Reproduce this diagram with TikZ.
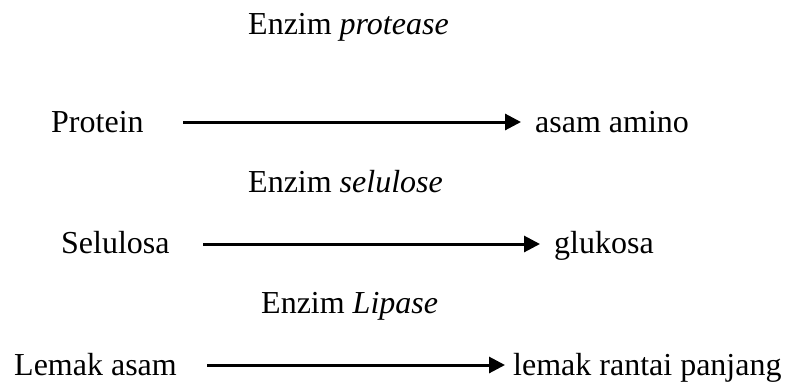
\documentclass[tikz,border=0pt]{standalone}
\usepackage{fontspec}
\setmainfont{Liberation Serif}
\usetikzlibrary{arrows.meta}
\begin{document}
\begin{tikzpicture}[x=1pt,y=-1pt,
  lbl/.style={anchor=base west,inner sep=0pt,font=\fontsize{32}{38}\selectfont},
  rxn/.style={line width=3pt,-{Triangle[length=16pt,width=16pt]}}]
\useasboundingbox[fill=white] (0,0) rectangle (786,381);
% row 1
\node[lbl] (e1) at (248,34) {Enzim \textit{protease}};
\node[lbl] (s1) at (51,132) {Protein};
\node[lbl] (p1) at (535,132) {asam amino};
\coordinate (a1s) at (183,122);
\coordinate (a1e) at (521,122);
\draw[rxn] (a1s) -- (a1e);
% row 2
\node[lbl] (e2) at (248,192) {Enzim \textit{selulose}};
\node[lbl] (s2) at (61,253) {Selulosa};
\node[lbl] (p2) at (554,253) {glukosa};
\coordinate (a2s) at (203,244);
\coordinate (a2e) at (540,244);
\draw[rxn] (a2s) -- (a2e);
% row 3
\node[lbl] (e3) at (261,313) {Enzim \textit{Lipase}};
\node[lbl] (s3) at (14,375) {Lemak asam};
\node[lbl] (p3) at (513,375) {lemak rantai panjang};
\coordinate (a3s) at (207,365);
\coordinate (a3e) at (505,365);
\draw[rxn] (a3s) -- (a3e);
\end{tikzpicture}
\end{document}
